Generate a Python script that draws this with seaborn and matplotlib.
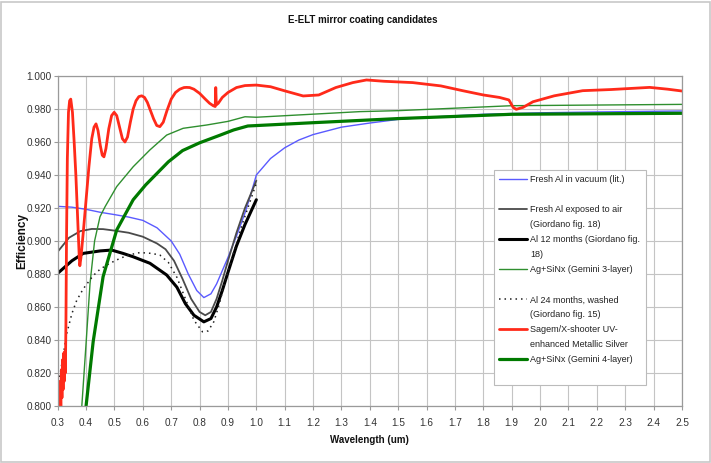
import matplotlib
matplotlib.use("Agg")
import matplotlib.pyplot as plt
import matplotlib.patches as mpatches
from matplotlib.lines import Line2D
from matplotlib import font_manager
import seaborn as sns

# ---------------- data ----------------
title = "E-ELT mirror coating candidates"
x_label = "Wavelength (um)"
y_label = "Efficiency"

x_ticks = [round(0.3 + 0.1 * i, 1) for i in range(23)]
y_ticks = [round(0.80 + 0.02 * i, 2) for i in range(11)]

# Fresh Al in vacuum (lit.)
al_vac_wl = [0.30, 0.35, 0.40, 0.45, 0.50, 0.55, 0.60, 0.65, 0.70, 0.73, 0.76, 0.79,
             0.815, 0.84, 0.86, 0.88, 0.90, 0.93, 0.96, 0.98, 1.00, 1.05, 1.10, 1.15,
             1.20, 1.30, 1.40, 1.50, 1.60, 1.80, 2.00, 2.20, 2.50]
al_vac_eff = [0.9210, 0.9205, 0.9192, 0.9174, 0.9160, 0.9145, 0.9125, 0.9080, 0.9000,
              0.8920, 0.8800, 0.8700, 0.8657, 0.8680, 0.8740, 0.8820, 0.8900, 0.9030,
              0.9170, 0.9280, 0.9400, 0.9500, 0.9565, 0.9612, 0.9645, 0.9690, 0.9715,
              0.9737, 0.9750, 0.9768, 0.9777, 0.9782, 0.9788]

# Fresh Al exposed to air (Giordano fig. 18)
al_air_wl = [0.30, 0.34, 0.38, 0.42, 0.46, 0.50, 0.55, 0.60, 0.65, 0.68, 0.71, 0.74,
             0.77, 0.80, 0.82, 0.84, 0.86, 0.88, 0.90, 0.93, 0.96, 1.00]
al_air_eff = [0.8935, 0.9020, 0.9060, 0.9073, 0.9072, 0.9063, 0.9050, 0.9026, 0.8985,
              0.8950, 0.8880, 0.8770, 0.8650, 0.8570, 0.8550, 0.8570, 0.8650, 0.8760,
              0.8880, 0.9050, 0.9200, 0.9366]

# Al 12 months (Giordano fig. 18)
al_12m_wl = [0.30, 0.35, 0.39, 0.45, 0.49, 0.53, 0.565, 0.625, 0.684, 0.72, 0.75,
             0.78, 0.815, 0.84, 0.86, 0.88, 0.90, 0.93, 0.96, 1.00]
al_12m_eff = [0.8804, 0.8880, 0.8925, 0.8940, 0.8945, 0.8925, 0.8905, 0.8865, 0.8794,
              0.8720, 0.8620, 0.8550, 0.8510, 0.8530, 0.8600, 0.8700, 0.8810, 0.8970,
              0.9100, 0.9250]

# Ag+SiNx (Gemini 3-layer)
gem3_wl = [0.385, 0.40, 0.414, 0.43, 0.449, 0.467, 0.508, 0.566, 0.625, 0.684, 0.742,
           0.825, 0.90, 0.96, 1.00, 1.364, 1.50, 1.90, 2.50]
gem3_eff = [0.8000, 0.8380, 0.8744, 0.9000, 0.9147, 0.9208, 0.9330, 0.9450, 0.9552,
            0.9642, 0.9683, 0.9703, 0.9725, 0.9753, 0.9750, 0.9784, 0.9790, 0.9820,
            0.9828]

# Al 24 months, washed (Giordano fig. 15)
al_24m_wl = [0.30, 0.315, 0.332, 0.35, 0.367, 0.39, 0.425, 0.45, 0.484, 0.52, 0.55,
             0.59, 0.63, 0.66, 0.69, 0.72, 0.75, 0.78, 0.81, 0.83, 0.85, 0.87, 0.89,
             0.92, 0.95, 1.00]
al_24m_eff = [0.8110, 0.8260, 0.8440, 0.8560, 0.8640, 0.8710, 0.8790, 0.8830, 0.8865,
              0.8895, 0.8915, 0.8930, 0.8925, 0.8915, 0.8870, 0.8780, 0.8650, 0.8520,
              0.8450, 0.8455, 0.8510, 0.8620, 0.8760, 0.8930, 0.9100, 0.9350]

# Sagem/X-shooter UV-enhanced Metallic Silver
sagem_wl = [0.300, 0.306, 0.309, 0.311, 0.313, 0.315, 0.317, 0.319, 0.321, 0.323,
            0.325, 0.327, 0.329, 0.331, 0.334, 0.338, 0.342, 0.346, 0.352, 0.358,
            0.364, 0.370, 0.376, 0.378, 0.382, 0.390, 0.400, 0.410, 0.420, 0.428,
            0.435, 0.442, 0.450, 0.457, 0.463, 0.470, 0.480, 0.490, 0.499, 0.508,
            0.518, 0.528, 0.537, 0.546, 0.556, 0.566, 0.576, 0.586, 0.596, 0.606,
            0.616, 0.627, 0.638, 0.649, 0.660, 0.672, 0.685, 0.700, 0.715, 0.730,
            0.745, 0.754, 0.765, 0.780, 0.800, 0.820, 0.835, 0.848, 0.855, 0.857,
            0.859, 0.866, 0.880, 0.900, 0.930, 0.960, 1.000, 1.050, 1.100, 1.165,
            1.220, 1.280, 1.340, 1.388, 1.450, 1.551, 1.650, 1.727, 1.800, 1.857,
            1.890, 1.905, 1.916, 1.940, 1.975, 2.050, 2.150, 2.250, 2.386, 2.450,
            2.500]
sagem_eff = [0.760, 0.790, 0.815, 0.800, 0.822, 0.805, 0.828, 0.810, 0.832, 0.815,
             0.833, 0.820, 0.850, 0.900, 0.950, 0.978, 0.985, 0.986, 0.978, 0.960,
             0.940, 0.915, 0.890, 0.885, 0.890, 0.905, 0.925, 0.945, 0.962, 0.969,
             0.971, 0.967, 0.958, 0.952, 0.951, 0.956, 0.968, 0.976, 0.978, 0.976,
             0.969, 0.962, 0.960, 0.963, 0.972, 0.980, 0.985, 0.9875, 0.988, 0.987,
             0.984, 0.979, 0.974, 0.970, 0.9693, 0.972, 0.979, 0.986, 0.990, 0.992,
             0.993, 0.9931, 0.993, 0.992, 0.9895, 0.986, 0.9835, 0.982, 0.9815, 0.993,
             0.9825, 0.9835, 0.987, 0.990, 0.993, 0.9942, 0.9945, 0.9935, 0.991, 0.9879,
             0.9885, 0.993, 0.996, 0.9976, 0.9968, 0.996, 0.994, 0.9911, 0.9885, 0.987,
             0.9855, 0.981, 0.9798, 0.981, 0.9844, 0.988, 0.9911, 0.9918, 0.9931, 0.992,
             0.9909]

# Ag+SiNx (Gemini 4-layer)
gem4_wl = [0.400, 0.425, 0.46, 0.508, 0.566, 0.61, 0.65, 0.69, 0.74, 0.80, 0.87,
           0.92, 0.97, 1.20, 1.50, 1.90, 2.50]
gem4_eff = [0.8000, 0.8390, 0.8784, 0.9067, 0.9250, 0.9340, 0.9410, 0.9480, 0.9548,
            0.9595, 0.9640, 0.9673, 0.9697, 0.9717, 0.9742, 0.9768, 0.9774]

# ---------------- styling ----------------
sns.set_style("white")
available = {f.name for f in font_manager.fontManager.ttflist}
base_family = ["Liberation Sans Narrow"] if "Liberation Sans Narrow" in available else []
base_family += ["Liberation Sans", "DejaVu Sans"]
plt.rcParams["font.family"] = base_family

W, H = 711, 463
fig = plt.figure(figsize=(W / 100, H / 100), dpi=100)
fig.patch.set_facecolor("white")

L, R, T, B = 57.7, 682.0, 76.0, 406.0
ax = fig.add_axes([L / W, 1 - B / H, (R - L) / W, (B - T) / H])

series = [
    (al_vac_wl, al_vac_eff, "#5a5aff", 1.0, "-"),
    (al_air_wl, al_air_eff, "#4a4a4a", 1.3, "-"),
    (al_12m_wl, al_12m_eff, "#000000", 2.2, "-"),
    (gem3_wl, gem3_eff, "#2f8f2f", 1.0, "-"),
    (al_24m_wl, al_24m_eff, "#202020", 1.1, (0, (1, 2.6))),
    (sagem_wl, sagem_eff, "#ff2a1a", 2.0, "-"),
    (gem4_wl, gem4_eff, "#007a00", 2.3, "-"),
]
handles = []
for wl, eff, color, lw, ls in series:
    sns.lineplot(x=wl, y=eff, ax=ax, color=color, linewidth=lw, linestyle=ls,
                 sort=False, estimator=None, legend=False)
    handles.append(ax.lines[-1])

ax.set_xlim(0.3, 2.5)
ax.set_ylim(0.8, 1.0)
ax.set_xticks(x_ticks)
ax.set_xticklabels([f"{v:.1f}" for v in x_ticks])
ax.set_yticks(y_ticks)
ax.set_yticklabels([f"{v:.3f}" for v in y_ticks])
ax.grid(True, color="#c4c4c4", linewidth=0.8)
ax.set_axisbelow(True)
for s in ax.spines.values():
    s.set_color("#9a9a9a")
    s.set_linewidth(0.9)
ax.tick_params(axis="both", which="major", length=3, width=0.8, color="#9a9a9a",
               labelsize=7.2, labelcolor="#333333", direction="out")
ax.tick_params(axis="y", pad=1.5)
ax.tick_params(axis="x", pad=6)
ax.tick_params(left=True, bottom=True)

ax.set_xlabel(x_label, fontsize=7, fontweight="bold", color="#111111", labelpad=5)
ax.set_ylabel(y_label, fontsize=8.5, fontweight="bold", color="#111111", labelpad=-1.5)
fig.text(363 / W, 1 - 20 / H, title, ha="center", va="center",
         fontsize=7, fontweight="bold", color="#111111")

# legend rows: each entry occupies two text rows, continuation rows have no handle
blank = Line2D([], [], linestyle="none")
rows = [
    ("Fresh Al in vacuum (lit.)", handles[0]),
    (" ", blank),
    ("Fresh Al exposed to air", handles[1]),
    ("(Giordano fig. 18)", blank),
    ("Al 12 months (Giordano fig.", handles[2]),
    ("18)", blank),
    ("Ag+SiNx (Gemini 3-layer)", handles[3]),
    (" ", blank),
    ("Al 24 months, washed", handles[4]),
    ("(Giordano fig. 15)", blank),
    ("Sagem/X-shooter UV-", handles[5]),
    ("enhanced Metallic Silver", blank),
    ("Ag+SiNx (Gemini 4-layer)", handles[6]),
    (" ", blank),
]
leg_fs = 6.5
leg = ax.legend([r[1] for r in rows], [r[0] for r in rows],
                loc="upper left",
                bbox_to_anchor=((494 - L) / (R - L), (B - 170) / (B - T)),
                borderaxespad=0, fontsize=leg_fs, frameon=True, fancybox=False,
                edgecolor="#bbbbbb", facecolor="white", framealpha=1,
                handlelength=3.1, handletextpad=0.33, labelspacing=0.665,
                borderpad=0.6)
leg.get_frame().set_linewidth(0.8)
for t in leg.get_texts():
    t.set_color("#222222")

# outer chart border
fig.add_artist(mpatches.Rectangle((1.5 / W, 1.5 / H), 1 - 3 / W, 1 - 3 / H,
                                  transform=fig.transFigure, fill=False,
                                  edgecolor="#c8c8c8", linewidth=1.2))

fig.savefig("out.png", dpi=100)
